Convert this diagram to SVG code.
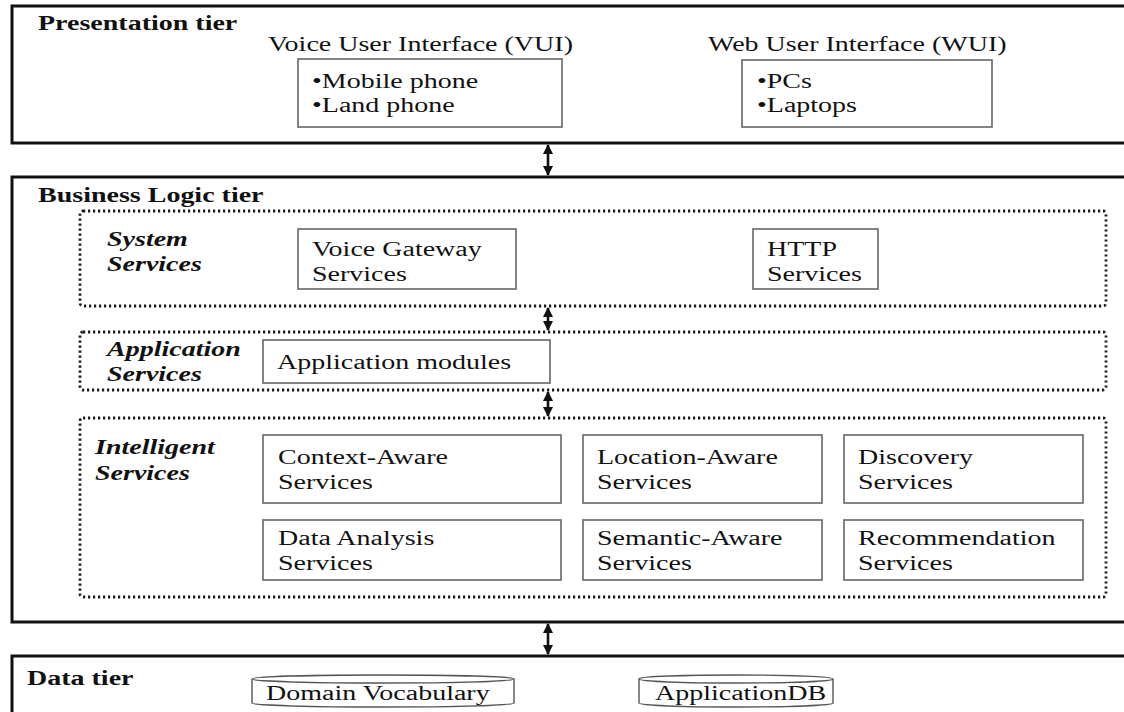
<svg xmlns="http://www.w3.org/2000/svg" width="1124" height="712" viewBox="0 0 1124 712">
  <style>
    .tier { fill: none; stroke: #111; stroke-width: 3; }
    .zone { fill: none; stroke: #1a1a1a; stroke-width: 2.8; stroke-dasharray: 2.2 2.8; }
    .box { fill: #fff; stroke: #666; stroke-width: 1.6; }
    .db { fill: #fff; stroke: #555; stroke-width: 1.4; }
    .link { stroke: #111; stroke-width: 2.6; fill: none; }
    text { font-family: "Liberation Serif", "Times New Roman", serif; font-size: 20px; fill: #111; }
    .b { font-weight: bold; }
    .bi { font-weight: bold; font-style: italic; }
  </style>
  <defs>
    <marker id="head" viewBox="0 0 10 10" refX="9" refY="5" markerWidth="10" markerHeight="10" markerUnits="userSpaceOnUse" orient="auto-start-reverse">
      <path d="M0,0 L10,5 L0,10 z" fill="#111"/>
    </marker>
  </defs>
  <rect width="1124" height="712" fill="#fff"/>

  <!-- Presentation tier -->
  <g id="presentation-tier">
    <rect class="tier" x="12" y="6" width="1130" height="137"/>
    <text class="b" transform="translate(38,30) scale(1.4,1)">Presentation tier</text>
  </g>
  <g id="vui">
    <text transform="translate(268,51) scale(1.4,1)">Voice User Interface (VUI)</text>
    <rect class="box" x="298" y="59" width="264" height="68"/>
    <text transform="translate(312,88) scale(1.4,1)">•Mobile phone</text>
    <text transform="translate(312,112) scale(1.4,1)">•Land phone</text>
  </g>
  <g id="wui">
    <text transform="translate(708,51) scale(1.4,1)">Web User Interface (WUI)</text>
    <rect class="box" x="742" y="60" width="250" height="67"/>
    <text transform="translate(757,88) scale(1.4,1)">•PCs</text>
    <text transform="translate(757,112) scale(1.4,1)">•Laptops</text>
  </g>

  <!-- Business logic tier -->
  <g id="business-tier">
    <rect class="tier" x="12" y="177" width="1130" height="445"/>
    <text class="b" transform="translate(38,202) scale(1.4,1)">Business Logic tier</text>
  </g>
  <g id="system-services">
    <rect class="zone" x="80" y="211" width="1026" height="95" rx="3"/>
    <text class="bi" transform="translate(107,246) scale(1.4,1)">System</text>
    <text class="bi" transform="translate(107,271) scale(1.4,1)">Services</text>
  </g>
  <g id="voice-gateway">
    <rect class="box" x="298" y="229" width="218" height="60"/>
    <text transform="translate(312,256) scale(1.4,1)">Voice Gateway</text>
    <text transform="translate(312,281) scale(1.4,1)">Services</text>
  </g>
  <g id="http-services">
    <rect class="box" x="753" y="229" width="125" height="60"/>
    <text transform="translate(767,256) scale(1.4,1)">HTTP</text>
    <text transform="translate(767,281) scale(1.4,1)">Services</text>
  </g>
  <g id="application-services">
    <rect class="zone" x="80" y="332" width="1026" height="58" rx="3"/>
    <text class="bi" transform="translate(107,356) scale(1.4,1)">Application</text>
    <text class="bi" transform="translate(107,381) scale(1.4,1)">Services</text>
  </g>
  <g id="application-modules">
    <rect class="box" x="263" y="340" width="287" height="43"/>
    <text transform="translate(277,369) scale(1.4,1)">Application modules</text>
  </g>
  <g id="intelligent-services">
    <rect class="zone" x="80" y="418" width="1026" height="179" rx="3"/>
    <text class="bi" transform="translate(95,454) scale(1.4,1)">Intelligent</text>
    <text class="bi" transform="translate(95,480) scale(1.4,1)">Services</text>
  </g>
  <g id="context-aware">
    <rect class="box" x="263" y="435" width="298" height="68"/>
    <text transform="translate(278,464) scale(1.4,1)">Context-Aware</text>
    <text transform="translate(278,489) scale(1.4,1)">Services</text>
  </g>
  <g id="location-aware">
    <rect class="box" x="583" y="435" width="239" height="68"/>
    <text transform="translate(597,464) scale(1.4,1)">Location-Aware</text>
    <text transform="translate(597,489) scale(1.4,1)">Services</text>
  </g>
  <g id="discovery">
    <rect class="box" x="844" y="435" width="239" height="68"/>
    <text transform="translate(858,464) scale(1.4,1)">Discovery</text>
    <text transform="translate(858,489) scale(1.4,1)">Services</text>
  </g>
  <g id="data-analysis">
    <rect class="box" x="263" y="520" width="298" height="60"/>
    <text transform="translate(278,545) scale(1.4,1)">Data Analysis</text>
    <text transform="translate(278,570) scale(1.4,1)">Services</text>
  </g>
  <g id="semantic-aware">
    <rect class="box" x="583" y="520" width="239" height="60"/>
    <text transform="translate(597,545) scale(1.4,1)">Semantic-Aware</text>
    <text transform="translate(597,570) scale(1.4,1)">Services</text>
  </g>
  <g id="recommendation">
    <rect class="box" x="844" y="520" width="239" height="60"/>
    <text transform="translate(858,545) scale(1.4,1)">Recommendation</text>
    <text transform="translate(858,570) scale(1.4,1)">Services</text>
  </g>

  <!-- Data tier -->
  <g id="data-tier">
    <rect class="tier" x="12" y="656" width="1130" height="70"/>
    <text class="b" transform="translate(27,685) scale(1.4,1)">Data tier</text>
  </g>
  <g id="domain-vocabulary">
    <path class="db" d="M252,679 A131,4 0 0 1 514,679 L514,703 A131,4 0 0 1 252,703 Z"/>
    <path class="db" fill="none" d="M252,679 A131,4 0 0 0 514,679"/>
    <text transform="translate(266,700) scale(1.4,1)">Domain Vocabulary</text>
  </g>
  <g id="application-db">
    <path class="db" d="M639,679 A97,4 0 0 1 833,679 L833,703 A97,4 0 0 1 639,703 Z"/>
    <path class="db" fill="none" d="M639,679 A97,4 0 0 0 833,679"/>
    <text transform="translate(655,700) scale(1.4,1)">ApplicationDB</text>
  </g>

  <!-- Connectors between layers -->
  <g id="connectors">
    <line class="link" x1="548" y1="145" x2="548" y2="175" marker-start="url(#head)" marker-end="url(#head)"/>
    <line class="link" x1="548" y1="308" x2="548" y2="330" marker-start="url(#head)" marker-end="url(#head)"/>
    <line class="link" x1="548" y1="392" x2="548" y2="416" marker-start="url(#head)" marker-end="url(#head)"/>
    <line class="link" x1="548" y1="624" x2="548" y2="654" marker-start="url(#head)" marker-end="url(#head)"/>
  </g>
</svg>
